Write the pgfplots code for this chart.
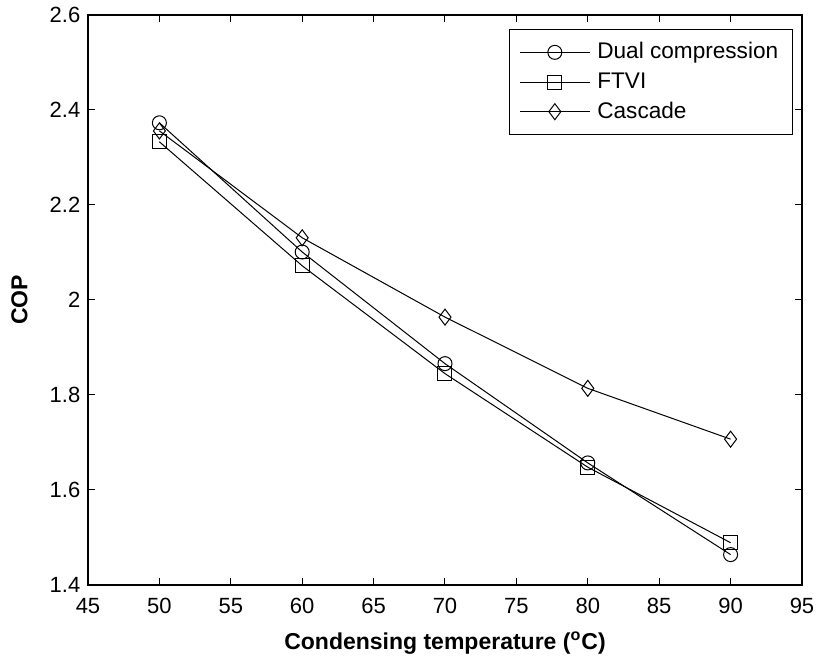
\documentclass[border=0pt]{standalone}
\usepackage{pgfplots}
\pgfplotsset{compat=1.18}
\usepackage{fontspec}
\setmainfont{Liberation Sans}
\begin{document}
\fontsize{11pt}{13pt}\selectfont
\begin{tikzpicture}
\useasboundingbox (-44pt,-38.5pt) rectangle (365.5pt,292.5pt);
\begin{axis}[
  scale only axis,
  width=357pt, height=285pt,
  xmin=45, xmax=95, ymin=1.4, ymax=2.6,
  xtick={45,50,...,95},
  ytick={1.4,1.6,...,2.61},
  yticklabels={1.4,1.6,1.8,2,2.2,2.4,2.6},
  tick align=inside,
  major tick length=3.5pt,
  tick style={black, line width=0.5pt},
  axis line style={black, line width=0.7pt},
  /pgf/number format/assume math mode=true,
  ticklabel style={font=\fontsize{11pt}{13pt}\selectfont},
  xticklabel style={yshift=-2.8pt},
  xlabel={\bfseries Condensing temperature (\textsuperscript{o}C)},
  ylabel={\bfseries COP},
  xlabel style={at={(rel axis cs:0.5,0)}, anchor=center, yshift=-29pt, font=\fontsize{11.5pt}{13pt}\selectfont},
  ylabel style={at={([xshift=-34.25pt]rel axis cs:0,0.5)}, anchor=center, font=\fontsize{11.5pt}{13pt}\selectfont},
  legend style={at={(0.987,0.9754)}, anchor=north east, draw=black, line width=0.5pt,
    font=\fontsize{11.3pt}{13pt}\selectfont, row sep=1.2pt, inner xsep=5pt, inner ysep=4.5pt,
    /tikz/every even column/.append style={column sep=2pt},
    /tikz/every odd column/.append style={column sep=1.5pt}},
  legend cell align=left,
  legend image code/.code={\draw[mark repeat=2,mark phase=2,#1] plot coordinates {(0pt,0pt)(17.5pt,0pt)(35pt,0pt)};},
  every axis plot/.append style={black, line width=0.5pt, mark options={solid, fill=none, line width=0.5pt}},
]
\addplot[mark=o, mark size=3.5pt] coordinates {(50,2.373) (60,2.101) (70,1.866) (80,1.657) (90,1.464)};
\addlegendentry{Dual compression}
\addplot[mark=square, mark size=3.5pt] coordinates {(50,2.333) (60,2.072) (70,1.845) (80,1.648) (90,1.489)};
\addlegendentry{FTVI}
\addplot[mark=diamond, mark size=4pt] coordinates {(50,2.356) (60,2.131) (70,1.964) (80,1.814) (90,1.707)};
\addlegendentry{Cascade}
\end{axis}
\end{tikzpicture}
\end{document}
